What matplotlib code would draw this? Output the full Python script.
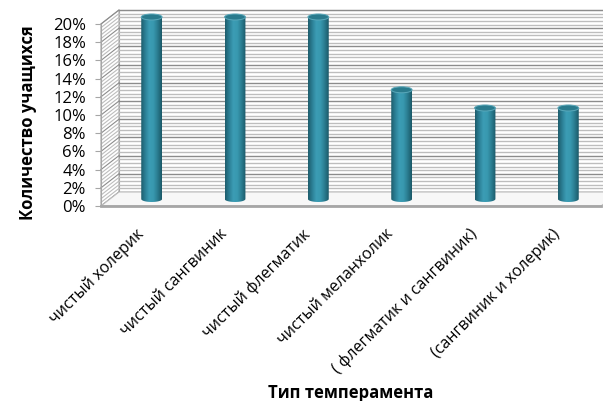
import numpy as np
import matplotlib
matplotlib.use("Agg")
import matplotlib.pyplot as plt
from matplotlib.colors import LinearSegmentedColormap
from matplotlib.patches import Ellipse, Polygon
from matplotlib.transforms import ScaledTranslation

plt.rcParams['font.family'] = ['Open Sans', 'Noto Sans', 'DejaVu Sans']

categories = ["чистый холерик", "чистый сангвиник", "чистый флегматик",
              "чистый меланхолик", "( флегматик и сангвиник)", "(сангвиник и холерик)"]
shares = [20, 20, 20, 12, 10, 10]  # percent of pupils
y_ticks = list(range(0, 21, 2))
y_tick_labels = [f"{t}%" for t in y_ticks]
y_title = "Количество учащихся"
x_title = "Тип темперамента"

# fake 3d box: depth vector in data units, cylinder size
DX, DY = 0.216, 1.54
CYL_W, CYL_EH = 0.25, 0.66
Y_TOP = 20

fig = plt.figure(figsize=(6.03, 4.01), dpi=100)
ax = fig.add_axes([101 / 603, 195 / 401, 500 / 603, 200.2 / 401])
ax.set_xlim(-0.5, len(categories) - 0.5)
ax.set_ylim(0, 22)
x0, x1 = ax.get_xlim()
ax.patch.set_visible(False)
for s in ax.spines.values():
    s.set_visible(False)

# back wall and side wall
ax.add_patch(Polygon([(x0 + DX, DY), (x1 + DX, DY), (x1 + DX, Y_TOP + DY), (x0 + DX, Y_TOP + DY)],
                     closed=True, fc='white', ec='#a6a6a6', lw=0.8, clip_on=False, zorder=0))
ax.add_patch(Polygon([(x0, 0), (x0 + DX, DY), (x0 + DX, Y_TOP + DY), (x0, Y_TOP)],
                     closed=True, fc='white', ec='#a6a6a6', lw=0.8, clip_on=False, zorder=0))
for k, y in enumerate(np.arange(0, Y_TOP + 0.01, 0.4)):
    c = '#8c8c8c' if k % 5 == 0 else '#bdbdbd'
    ax.plot([x0 + DX, x1 + DX], [y + DY, y + DY], color=c, lw=1.0, clip_on=False, zorder=1)
    ax.plot([x0, x0 + DX], [y, y + DY], color=c, lw=0.8, clip_on=False, zorder=1)
ax.plot([x0, x0], [0, Y_TOP], color='#a6a6a6', lw=0.8, zorder=1)

# floor
ax.add_patch(Polygon([(x0, 0), (x1, 0), (x1 + DX, DY), (x0 + DX, DY)],
                     closed=True, fc='#f7f7f7', ec='#bdbdbd', lw=0.8, clip_on=False, zorder=2))
ax.plot([x0, x1], [0, 0], color='#a6a6a6', lw=2, clip_on=False, zorder=2)

# cylinders
cmap = LinearSegmentedColormap.from_list('cyl', ['#1d5c6c', '#2c8096', '#3c9db5',
                                                 '#3898af', '#2a7c90', '#1b5867'])
grad = np.linspace(0, 1, 64).reshape(1, -1)
t = np.linspace(np.pi, 2 * np.pi, 40)
for i, v in enumerate(shares):
    cx = i + DX / 2
    base = DY / 2
    top = v + DY / 2
    bottom = list(zip(cx + CYL_W / 2 * np.cos(t), base + CYL_EH / 2 * np.sin(t)))
    verts = [(cx - CYL_W / 2, top)] + bottom + [(cx + CYL_W / 2, top)]
    body = Polygon(verts, closed=True, fc='none', ec='none', zorder=3)
    ax.add_patch(body)
    im = ax.imshow(grad, cmap=cmap, extent=(cx - CYL_W / 2, cx + CYL_W / 2, base - CYL_EH, top),
                   aspect='auto', interpolation='bilinear', zorder=3)
    im.set_clip_path(body)
    ax.add_patch(Ellipse((cx, top), CYL_W, CYL_EH, fc='#2a7b8d', ec='#5aa8ba', lw=0.7, zorder=4))

ax.set_xlim(x0, x1)
ax.set_ylim(0, 22)

# axes, ticks, labels
ax.set_xticks([])
ax.set_yticks(y_ticks, y_tick_labels)
ax.tick_params(axis='y', length=4.3, width=0.8, color='#a6a6a6', pad=6.5, labelsize=12)

lab_off = ScaledTranslation(-0.07, -0.2, fig.dpi_scale_trans)
for i, name in enumerate(categories):
    ax.text(i, 0, name, rotation=45, ha='right', va='top', rotation_mode='anchor',
            transform=ax.transData + lab_off, fontsize=11.5)

fig.text(28 / 603, 1 - 123 / 401, y_title, rotation=90, ha='center', va='center',
         fontsize=12, fontweight='bold')
fig.text(351 / 603, 1 - 393 / 401, x_title, ha='center', va='center',
         fontsize=12, fontweight='bold')

fig.savefig('out.png', dpi=100)
